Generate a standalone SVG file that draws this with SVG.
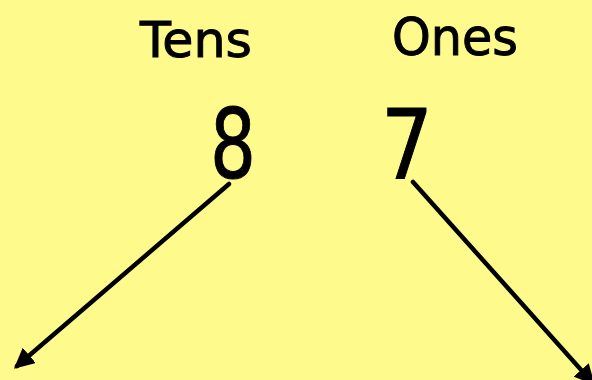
<svg xmlns="http://www.w3.org/2000/svg" width="592" height="380" viewBox="0 0 592 380">
<style>
.t{font-family:"DejaVu Sans","Open Sans",sans-serif;fill:#000;stroke:#000;stroke-width:1}
.c{stroke:#000;stroke-width:4.5;stroke-linecap:round;fill:none}
</style>
<defs>
<marker id="ah" viewBox="0 0 10 10" refX="8" refY="5" markerWidth="4.5" markerHeight="4.5" orient="auto" markerUnits="strokeWidth">
<path d="M0,0 L10,5 L0,10 Z" fill="#000"/>
</marker>
</defs>
<rect width="592" height="380" fill="#FEFB8C"/>
<g id="tens"><text class="t" x="140" y="57" font-size="50" textLength="112" lengthAdjust="spacingAndGlyphs">Tens</text></g>
<g id="ones"><text class="t" x="392" y="55" font-size="52" textLength="126" lengthAdjust="spacingAndGlyphs">Ones</text></g>
<g id="eight"><text class="t" x="210" y="178" font-size="96" textLength="46" lengthAdjust="spacingAndGlyphs">8</text></g>
<g id="seven"><text class="t" x="381" y="178" font-size="96" textLength="52" lengthAdjust="spacingAndGlyphs">7</text></g>
<g id="connectors">
<line class="c" x1="229" y1="184" x2="17" y2="366" marker-end="url(#ah)"/>
<line class="c" x1="413" y1="182" x2="592" y2="382" marker-end="url(#ah)"/>
</g>
</svg>
